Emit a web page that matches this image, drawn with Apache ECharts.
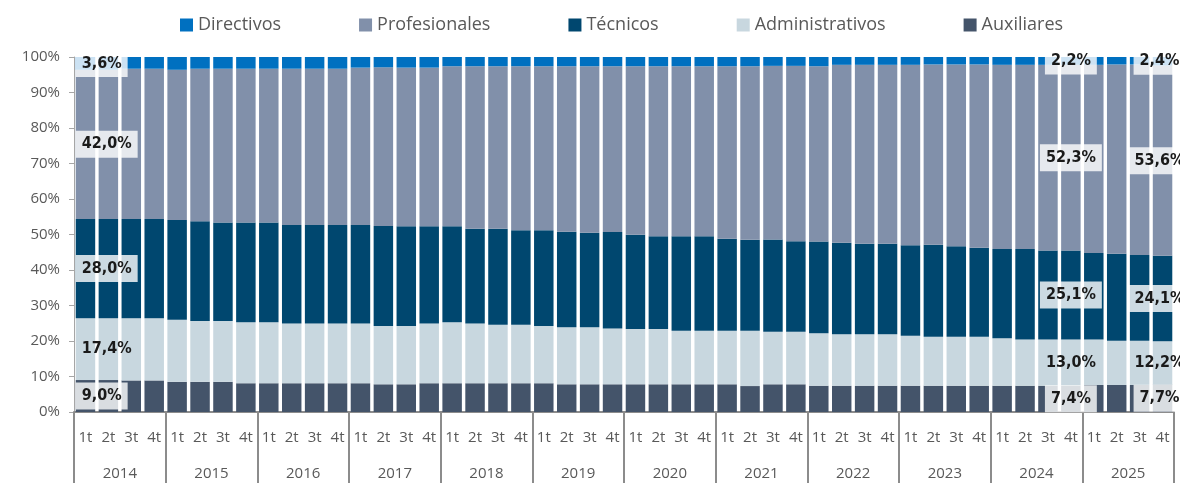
<!DOCTYPE html>
<html>
<head>
<meta charset="utf-8">
<script src="https://cdn.jsdelivr.net/npm/echarts@6/dist/echarts.min.js"></script>
<style>
  html, body { margin: 0; padding: 0; background: #fff; }
  #chart { width: 1180px; height: 483px; }
</style>
</head>
<body>
<div id="chart"></div>
<script>
const years = ['2014', '2015', '2016', '2017', '2018', '2019', '2020', '2021', '2022', '2023', '2024', '2025'];
const quarters = ['1t', '2t', '3t', '4t'];

// share of each group per quarter (%), bottom to top
const auxiliares = [9.0, 9.0, 8.9, 8.9, 8.5, 8.5, 8.5, 8.1, 8.1, 8.1, 8.1, 8.1, 8.1, 7.8, 7.8, 8.1, 8.1, 8.1, 8.1, 8.1, 8.1, 7.8, 7.8, 7.8,
    7.8, 7.8, 7.8, 7.8, 7.8, 7.3, 7.8, 7.8, 7.4, 7.4, 7.4, 7.4, 7.4, 7.4, 7.4, 7.4, 7.4, 7.4, 7.4, 7.4, 7.6, 7.6, 7.6, 7.7];
const administrativos = [17.4, 17.4, 17.5, 17.5, 17.5, 17.1, 17.1, 17.2, 17.2, 16.8, 16.8, 16.8, 16.8, 16.4, 16.4, 16.8, 17.2, 16.8, 16.5, 16.5, 16.1, 16.1, 16.1, 15.7,
    15.6, 15.6, 15.1, 15.1, 15.1, 15.6, 14.8, 14.8, 14.8, 14.5, 14.5, 14.5, 14.1, 13.8, 13.8, 13.8, 13.4, 13.0, 13.0, 13.0, 12.8, 12.5, 12.5, 12.2];
const tecnicos = [28.0, 28.0, 28.0, 28.0, 28.1, 28.1, 27.8, 28.1, 28.1, 27.8, 27.8, 27.8, 27.8, 28.2, 28.1, 27.4, 27.0, 26.7, 27.0, 26.6, 27.0, 26.9, 26.6, 27.2,
    26.5, 26.1, 26.6, 26.6, 25.9, 25.6, 26.0, 25.5, 25.8, 25.8, 25.5, 25.5, 25.5, 25.9, 25.5, 25.1, 25.1, 25.5, 25.1, 25.1, 24.4, 24.5, 24.1, 24.1];
const profesionales = [42.0, 42.0, 42.3, 42.3, 42.3, 43.0, 43.3, 43.3, 43.3, 44.0, 44.0, 44.0, 44.3, 44.7, 44.7, 44.7, 45.1, 45.8, 45.8, 46.2, 46.2, 46.6, 46.9, 46.7,
    47.5, 47.9, 47.9, 47.9, 48.6, 48.9, 48.9, 49.4, 49.4, 50.1, 50.4, 50.4, 50.8, 50.8, 51.2, 51.6, 51.9, 51.9, 52.3, 52.3, 53.0, 53.3, 53.7, 53.6];
const directivos = [3.6, 3.6, 3.3, 3.3, 3.6, 3.3, 3.3, 3.3, 3.3, 3.3, 3.3, 3.3, 3.0, 3.0, 3.0, 3.0, 2.6, 2.6, 2.6, 2.6, 2.6, 2.6, 2.6, 2.6,
    2.6, 2.6, 2.6, 2.6, 2.6, 2.6, 2.6, 2.6, 2.6, 2.2, 2.2, 2.2, 2.2, 2.2, 2.2, 2.2, 2.2, 2.2, 2.2, 2.2, 2.2, 2.2, 2.2, 2.4];

// bars that carry a value label (2014 1t, 2024 4t, 2025 4t)
const labeledBars = [0, 43, 47];

const categories = [];
years.forEach(y => quarters.forEach(q => categories.push(q)));

const axisGray = '#8c8c8c';
const textGray = '#595959';

const fmt = v => v.toFixed(1).replace('.', ',') + '%';

const buildData = (values, boxed) => values.map((v, i) => {
    if (labeledBars.indexOf(i) < 0) return v;
    const label = {
        show: true,
        formatter: fmt(v),
        fontStyle: 'condensed',
        fontFamily: '"DejaVu Sans"',
        fontWeight: 'bold',
        fontSize: 16,
        color: '#1a1a1a',
        padding: [6, 6, 5, 6],
        backgroundColor: boxed ? 'rgba(255,255,255,0.8)' : 'transparent'
    };
    if (i === 0) {
        label.position = 'insideLeft';
        label.distance = 0;
    } else {
        label.position = 'inside';
        if (i === 47) label.offset = [-3, 0];
    }
    return {value: v, label};
});

const seriesDefs = [
    {name: 'Auxiliares', data: auxiliares, color: '#44546a', boxed: true},
    {name: 'Administrativos', data: administrativos, color: '#c8d7df', boxed: false},
    {name: 'Técnicos', data: tecnicos, color: '#00476f', boxed: true},
    {name: 'Profesionales', data: profesionales, color: '#8190aa', boxed: true},
    {name: 'Directivos', data: directivos, color: '#0070c0', boxed: true}
];

let option = {
    animation: false,
    textStyle: {fontFamily: '"Open Sans", sans-serif'},
    legend: {
        data: ['Directivos', 'Profesionales', 'Técnicos', 'Administrativos', 'Auxiliares'],
        left: 175,
        top: 11,
        icon: 'rect',
        itemWidth: 13,
        itemHeight: 13,
        itemGap: 78,
        textStyle: {fontSize: 18, color: textGray, fontFamily: '"Open Sans", sans-serif'}
    },
    grid: {left: 74, right: 6, top: 57, bottom: 71, containLabel: false},
    xAxis: [
        {
            type: 'category',
            data: categories,
            axisLine: {show: true, lineStyle: {color: axisGray, width: 2}},
            axisTick: {show: false},
            axisLabel: {interval: 0, margin: 18, fontSize: 15, color: textGray}
        },
        {
            type: 'category',
            position: 'bottom',
            data: years,
            axisLine: {show: false},
            axisTick: {show: true, length: 72, lineStyle: {color: axisGray, width: 2}},
            axisLabel: {interval: 0, margin: 54, fontSize: 15, color: textGray}
        }
    ],
    yAxis: {
        type: 'value',
        min: 0,
        max: 100,
        interval: 10,
        splitLine: {show: false},
        axisLine: {show: true, lineStyle: {color: '#a6a6a6', width: 1}},
        axisTick: {show: true, length: 5, lineStyle: {color: '#a6a6a6'}},
        axisLabel: {formatter: '{value}%', margin: 14, fontSize: 15, color: textGray}
    },
    series: seriesDefs.map(s => ({
        name: s.name,
        type: 'bar',
        stack: 'total',
        xAxisIndex: 0,
        barCategoryGap: '15%',
        itemStyle: {color: s.color},
        data: buildData(s.data, s.boxed)
    }))
};

const chart = echarts.init(document.getElementById('chart'));
chart.setOption(option);
</script>
</body>
</html>
